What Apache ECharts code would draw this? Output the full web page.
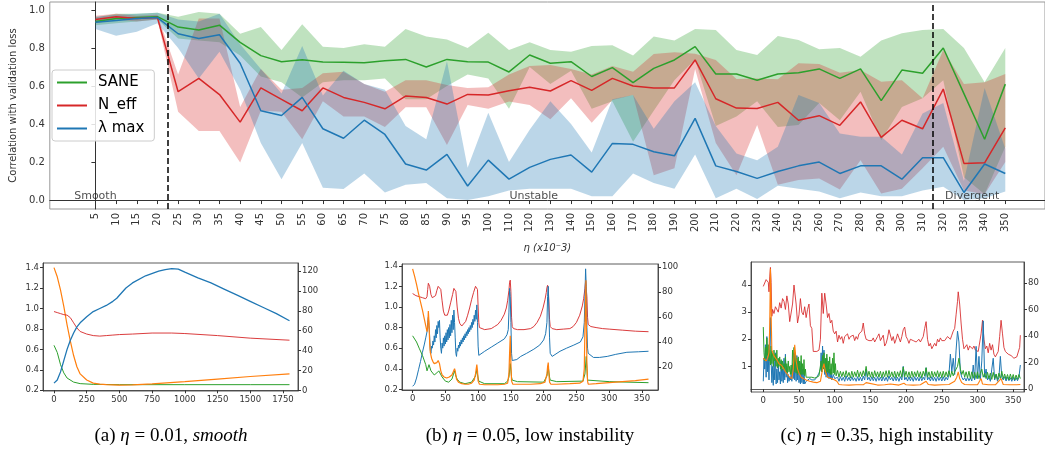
<!DOCTYPE html>
<html><head><meta charset="utf-8">
<script src="https://cdn.jsdelivr.net/npm/echarts@6/dist/echarts.min.js"></script>
<style>html,body{margin:0;padding:0;background:#fff}#c{width:1045px;height:450px}</style>
</head><body><div id="c"></div>
<script>
// ---------------- Top chart data ----------------
const categories = [5,10,15,20,25,30,35,40,45,50,55,60,65,70,75,80,85,90,95,100,110,120,130,140,150,160,170,180,190,200,210,220,230,240,250,260,270,280,290,300,310,320,330,340,350];
const saneMean  = [0.94,0.955,0.96,0.965,0.91,0.895,0.92,0.83,0.76,0.728,0.738,0.726,0.725,0.722,0.733,0.74,0.70,0.74,0.728,0.726,0.674,0.763,0.72,0.728,0.65,0.697,0.618,0.693,0.737,0.807,0.663,0.663,0.63,0.663,0.67,0.69,0.64,0.69,0.523,0.684,0.667,0.80,0.56,0.32,0.61];
const saneLower = [0.92,0.93,0.94,0.95,0.85,0.84,0.83,0.76,0.65,0.62,0.54,0.62,0.63,0.63,0.64,0.53,0.53,0.60,0.66,0.64,0.48,0.70,0.61,0.68,0.48,0.52,0.307,0.47,0.63,0.74,0.39,0.44,0.52,0.385,0.395,0.51,0.42,0.57,0.315,0.49,0.535,0.63,0.12,0.03,0.28];
const saneUpper = [0.96,0.98,0.98,0.985,0.965,0.99,0.98,0.875,0.91,0.79,0.925,0.807,0.80,0.82,0.807,0.90,0.86,0.845,0.80,0.88,0.79,0.83,0.79,0.78,0.81,0.815,0.76,0.86,0.84,0.90,0.895,0.79,0.763,0.863,0.842,0.793,0.80,0.754,0.84,0.877,0.895,0.90,0.80,0.62,0.80];
const neffMean  = [0.95,0.965,0.955,0.96,0.57,0.64,0.555,0.41,0.59,0.53,0.47,0.59,0.54,0.514,0.48,0.547,0.54,0.505,0.556,0.553,0.575,0.593,0.574,0.628,0.577,0.64,0.60,0.59,0.59,0.737,0.533,0.484,0.482,0.514,0.42,0.444,0.393,0.516,0.33,0.42,0.375,0.584,0.193,0.196,0.38];
const neffLower = [0.93,0.95,0.94,0.95,0.465,0.363,0.363,0.197,0.47,0.465,0.32,0.52,0.44,0.44,0.385,0.488,0.488,0.29,0.50,0.48,0.518,0.50,0.425,0.535,0.407,0.526,0.553,0.13,0.167,0.69,0.30,0.13,0.395,0.08,0.105,0.114,0.056,0.21,0.035,0.06,0.167,0.28,0.05,0.03,0.20];
const neffUpper = [0.97,0.98,0.97,0.975,0.66,0.955,0.955,0.49,0.69,0.58,0.59,0.667,0.675,0.61,0.57,0.63,0.63,0.605,0.59,0.593,0.66,0.705,0.71,0.69,0.66,0.705,0.675,0.768,0.777,0.77,0.737,0.637,0.64,0.635,0.72,0.716,0.67,0.684,0.623,0.63,0.535,0.79,0.61,0.62,0.663];
const lamMean   = [0.935,0.945,0.955,0.96,0.875,0.85,0.87,0.72,0.47,0.445,0.54,0.375,0.325,0.42,0.345,0.19,0.158,0.24,0.074,0.21,0.11,0.172,0.214,0.237,0.147,0.298,0.293,0.254,0.233,0.43,0.18,0.15,0.114,0.15,0.18,0.20,0.14,0.18,0.18,0.11,0.223,0.223,0.04,0.19,0.14];
const lamLower  = [0.90,0.865,0.885,0.93,0.80,0.64,0.78,0.58,0.30,0.11,0.30,0.065,0.058,0.14,0.04,0.08,0.09,0.01,0.0,0.02,0.05,0.06,0.06,0.06,0.02,0.02,0.14,0.09,0.06,0.24,0.01,0.06,0.005,0.075,0.06,0.045,0.01,0.04,0.02,0.02,0.05,0.07,0.0,0.01,0.045];
const lamUpper  = [0.965,0.975,0.98,0.985,0.95,0.94,0.98,0.82,0.69,0.56,0.81,0.55,0.68,0.61,0.58,0.39,0.32,0.73,0.17,0.46,0.20,0.37,0.52,0.40,0.25,0.53,0.553,0.375,0.52,0.62,0.39,0.245,0.21,0.28,0.553,0.51,0.35,0.333,0.333,0.24,0.455,0.51,0.10,0.59,0.27];
const seriesNames = ['SANE','N_eff','λ max'];
const yTicks = [0,0.2,0.4,0.6,0.8,1.0];
const phaseBoundaries = [3.5, 40.5];           // in category-index units (22.5 and 315)
const regionLabels = ['Smooth','Unstable','Divergent'];
const regionLabelX = [0, 21.2, 42.4];
const regionLabelY = [0.02, 0.02, 0.02];

// ---------------- (a) eta = 0.01 ----------------
const aXTicks = [0,250,500,750,1000,1250,1500,1750];
const aLeftTicks = [0.2,0.4,0.6,0.8,1.0,1.2,1.4];
const aRightTicks = [0,20,40,60,80,100,120];
const aOrange = [[0,1.40],[25,1.31],[50,1.18],[75,1.02],[100,0.84],[125,0.68],[150,0.54],[175,0.43],[200,0.36],[250,0.30],[300,0.27],[350,0.26],[400,0.255],[500,0.25],[600,0.252],[750,0.262],[1000,0.285],[1250,0.31],[1500,0.335],[1800,0.36]];
const aGreen = [[0,0.64],[10,0.63],[25,0.57],[50,0.45],[75,0.37],[100,0.32],[150,0.28],[200,0.265],[300,0.258],[500,0.255],[1000,0.255],[1500,0.255],[1800,0.255]];
const aBlue = [[0,0.27],[10,0.275],[25,0.30],[50,0.38],[75,0.49],[100,0.60],[125,0.69],[150,0.76],[175,0.82],[200,0.86],[250,0.92],[300,0.97],[350,1.00],[400,1.03],[450,1.07],[480,1.10],[500,1.13],[550,1.20],[600,1.25],[700,1.32],[800,1.365],[850,1.38],[900,1.39],[950,1.385],[1000,1.355],[1100,1.30],[1200,1.25],[1300,1.19],[1400,1.13],[1500,1.07],[1600,1.01],[1700,0.95],[1800,0.88]];
const aRed = [[0,0.97],[25,0.96],[50,0.95],[75,0.94],[100,0.935],[125,0.91],[150,0.86],[175,0.81],[200,0.775],[250,0.75],[300,0.735],[350,0.73],[400,0.735],[450,0.74],[500,0.745],[600,0.75],[750,0.76],[900,0.76],[1000,0.755],[1250,0.735],[1500,0.71],[1800,0.69]];

// ---------------- (b) eta = 0.05 ----------------
const bXTicks = [0,50,100,150,200,250,300,350];
const bLeftTicks = [0.2,0.4,0.6,0.8,1.0,1.2,1.4];
const bRightTicks = [20,40,60,80,100];
const bRed = [[0,1.13],[5,1.11],[10,1.10],[15,1.09],[20,1.08],[22,1.10],[23,1.17],[24,1.23],[25,1.245],[26,1.2],[28,1.12],[30,1.09],[33,1.08],[35,1.11],[37,1.16],[39,1.2],[41,1.21],[43,1.17],[45,1.06],[47,0.96],[49,0.92],[51,0.905],[53,0.92],[55,0.96],[58,1.04],[61,1.12],[63,1.18],[64,1.195],[66,1.15],[68,1.0],[70,0.89],[72,0.84],[75,0.815],[78,0.82],[81,0.86],[84,0.92],[87,0.99],[90,1.07],[93,1.14],[96,1.2],[98,1.21],[99,1.17],[100,1.0],[101,0.85],[102,0.8],[105,0.785],[110,0.78],[115,0.785],[120,0.79],[125,0.81],[130,0.83],[135,0.87],[140,0.93],[143,0.99],[145,1.06],[147,1.16],[148,1.24],[149,1.26],[150,1.15],[151,0.9],[152,0.81],[154,0.79],[160,0.78],[170,0.78],[180,0.79],[185,0.81],[190,0.85],[195,0.91],[199,0.99],[202,1.07],[204,1.14],[205,1.19],[206,1.21],[207,1.18],[208,1.05],[209,0.88],[210,0.81],[213,0.79],[220,0.78],[230,0.785],[240,0.79],[245,0.81],[250,0.85],[255,0.92],[259,1.01],[261,1.08],[263,1.18],[264,1.25],[265,1.26],[266,1.1],[267,0.9],[268,0.83],[272,0.81],[280,0.80],[290,0.79],[300,0.785],[320,0.775],[340,0.765],[360,0.76]];
const bBlue = [[0,0.23],[3,0.25],[6,0.31],[9,0.39],[12,0.47],[15,0.56],[18,0.64],[20,0.70],[22,0.76],[23,0.85],[24,0.9],[25,0.82],[26,0.72],[27,0.58],[28,0.55],[29,0.62],[30,0.6],[31,0.67],[32,0.63],[33,0.72],[34,0.66],[35,0.78],[36,0.7],[37,0.82],[38,0.74],[39,0.86],[40,0.8],[41,0.87],[42,0.7],[43,0.6],[44,0.55],[45,0.65],[46,0.6],[47,0.7],[48,0.62],[49,0.72],[50,0.64],[51,0.75],[52,0.66],[53,0.78],[54,0.68],[55,0.8],[56,0.7],[57,0.83],[58,0.72],[59,0.87],[60,0.75],[61,0.92],[62,0.78],[63,0.97],[64,0.85],[65,0.7],[66,0.55],[67,0.52],[68,0.6],[69,0.57],[70,0.63],[71,0.6],[72,0.66],[73,0.62],[74,0.68],[75,0.64],[76,0.7],[77,0.66],[78,0.72],[79,0.68],[80,0.74],[81,0.7],[82,0.76],[83,0.72],[84,0.78],[85,0.74],[86,0.8],[87,0.76],[88,0.82],[89,0.78],[90,0.85],[91,0.8],[92,0.88],[93,0.83],[94,0.92],[95,0.86],[96,0.97],[97,0.88],[98,1.02],[99,0.85],[100,0.62],[101,0.53],[103,0.53],[110,0.57],[120,0.61],[130,0.65],[140,0.69],[144,0.73],[146,0.78],[147,0.95],[148,1.18],[149,1.1],[150,0.85],[151,0.55],[152,0.48],[153,0.47],[159,0.49],[165,0.52],[174,0.55],[185,0.59],[194,0.63],[200,0.68],[203,0.74],[205,0.85],[206,1.1],[207,1.2],[208,0.95],[209,0.7],[210,0.55],[213,0.52],[225,0.57],[235,0.60],[246,0.63],[256,0.66],[260,0.71],[262,0.85],[263,1.1],[264,1.37],[265,1.2],[266,0.8],[267,0.6],[268,0.55],[276,0.51],[285,0.51],[297,0.52],[310,0.54],[327,0.56],[345,0.565],[360,0.57]];
const bGreen = [[0,0.72],[3,0.71],[6,0.66],[10,0.60],[15,0.53],[20,0.44],[22,0.38],[25,0.44],[28,0.38],[33,0.34],[37,0.36],[40,0.38],[45,0.32],[50,0.28],[55,0.27],[60,0.30],[62,0.34],[64,0.38],[66,0.33],[68,0.30],[72,0.27],[80,0.255],[90,0.27],[96,0.33],[98,0.39],[100,0.31],[101,0.28],[110,0.255],[140,0.255],[145,0.28],[147,0.32],[149,0.45],[151,0.32],[152,0.29],[160,0.275],[200,0.27],[205,0.33],[207,0.42],[209,0.32],[210,0.29],[220,0.275],[260,0.28],[263,0.35],[265,0.52],[266,0.4],[267,0.29],[300,0.275],[360,0.265]];
const bOrange = [[0,1.37],[3,1.30],[6,1.22],[9,1.13],[12,1.05],[15,0.97],[18,0.88],[20,0.82],[22,0.76],[23,0.8],[24,0.96],[25,0.85],[26,0.65],[27,0.56],[29,0.5],[31,0.47],[33,0.45],[35,0.44],[37,0.46],[39,0.48],[40,0.48],[41,0.45],[43,0.38],[45,0.34],[48,0.32],[52,0.31],[56,0.32],[60,0.34],[62,0.37],[64,0.40],[65,0.38],[67,0.3],[70,0.27],[75,0.255],[80,0.25],[85,0.25],[90,0.26],[94,0.29],[96,0.35],[98,0.44],[99,0.38],[100,0.28],[102,0.25],[110,0.245],[120,0.245],[130,0.245],[140,0.25],[145,0.26],[147,0.35],[148,0.55],[149,0.72],[150,0.45],[151,0.28],[153,0.25],[160,0.25],[180,0.25],[195,0.255],[202,0.27],[205,0.35],[206,0.42],[207,0.46],[208,0.35],[209,0.27],[211,0.25],[220,0.25],[240,0.255],[255,0.26],[260,0.28],[262,0.4],[263,0.8],[264,1.1],[264.5,1.26],[265,0.9],[266,0.45],[267,0.28],[268,0.25],[280,0.255],[300,0.265],[320,0.275],[340,0.285],[360,0.30]];

// ---------------- (c) eta = 0.35 ----------------
const cXTicks = [0,50,100,150,200,250,300,350];
const cLeftTicks = [1,2,3,4];
const cRightTicks = [0,20,40,60,80];
const cRed = [[0,3.95],[2,4.0],[4,4.2],[6,4.25],[7,4.1],[8,3.75],[9,4.3],[10,4.65],[11,4.1],[12,2.85],[13,3.1],[15,2.95],[17,3.2],[19,3.25],[21,3.0],[23,3.35],[25,3.15],[27,3.5],[29,3.4],[31,3.1],[33,3.6],[35,3.3],[37,2.65],[39,2.6],[41,3.3],[43,4.0],[44,4.05],[46,3.3],[48,2.6],[50,2.9],[52,3.5],[54,3.0],[56,2.9],[58,3.2],[60,2.8],[62,3.1],[64,3.3],[66,2.5],[68,2.4],[70,1.55],[72,1.5],[75,1.55],[78,1.6],[80,2.0],[82,3.7],[84,2.95],[86,3.7],[88,3.3],[90,2.8],[92,2.95],[94,2.6],[96,2.7],[98,2.3],[100,2.2],[102,2.3],[104,1.9],[106,2.15],[108,2.0],[110,2.1],[112,1.85],[114,2.1],[116,2.05],[118,2.2],[120,2.0],[122,2.1],[124,2.05],[126,2.15],[128,1.95],[130,2.1],[132,2.0],[134,2.2],[136,2.15],[138,2.3],[140,2.6],[142,2.2],[144,2.0],[146,2.05],[148,1.95],[150,2.0],[152,1.95],[154,2.05],[156,1.9],[158,2.0],[160,2.1],[162,2.2],[164,1.95],[166,2.0],[168,2.15],[170,1.75],[172,1.85],[174,2.05],[176,2.35],[178,2.4],[180,1.95],[182,2.1],[184,1.85],[186,2.0],[188,2.2],[190,2.05],[192,1.9],[194,2.1],[196,2.35],[198,2.45],[200,2.1],[202,2.0],[204,1.85],[206,2.0],[208,1.95],[210,1.95],[212,2.0],[214,1.9],[216,1.95],[218,2.0],[220,1.9],[222,1.85],[224,2.1],[226,2.4],[228,2.65],[230,2.0],[232,1.75],[234,1.85],[236,1.65],[238,1.7],[240,1.85],[242,1.75],[244,2.0],[246,1.9],[248,2.05],[250,1.95],[252,2.0],[254,1.95],[256,2.0],[258,2.1],[260,2.05],[262,2.0],[264,2.15],[266,2.3],[268,2.4],[270,2.9],[272,3.4],[273,3.75],[275,3.3],[277,2.6],[279,2.0],[281,1.65],[283,1.7],[285,1.8],[287,1.6],[289,1.75],[291,1.7],[293,1.65],[295,1.75],[297,1.6],[299,1.65],[301,1.55],[303,1.6],[305,2.2],[307,2.7],[309,2.0],[311,1.65],[313,1.75],[315,1.5],[317,1.85],[319,1.6],[321,1.8],[323,1.45],[325,1.35],[327,1.3],[329,1.55],[331,2.1],[333,2.7],[335,2.2],[337,1.7],[339,1.55],[341,1.6],[343,1.45],[345,1.5],[347,1.4],[349,1.35],[351,1.3],[353,1.3],[355,1.35],[357,1.4],[359,1.7],[360,2.15]];
const cBlue = [[0,0.45],[1,1.3],[2,0.9],[3,1.8],[4,0.6],[5,2.1],[6,0.8],[7,1.4],[8,0.5],[9,1.9],[10,2.8],[11,1.2],[12,0.4],[13,1.0],[14,0.3],[15,1.2],[16,0.5],[17,1.5],[18,0.35],[19,0.9],[20,0.4],[21,1.1],[22,0.5],[23,0.8],[24,0.35],[25,1.2],[26,0.45],[27,0.9],[28,0.4],[29,1.3],[30,0.5],[31,1.45],[32,0.6],[33,1.0],[34,0.4],[35,0.7],[36,0.45],[37,0.6],[38,0.5],[39,0.7],[40,0.45],[41,1.1],[42,0.55],[43,1.5],[44,0.5],[45,1.3],[46,0.45],[47,1.4],[48,0.5],[49,1.2],[50,0.4],[51,1.0],[52,0.35],[53,1.15],[54,0.4],[55,0.9],[56,0.35],[57,0.8],[58,0.35],[60,0.45],[62,0.5],[65,0.55],[68,0.5],[70,0.55],[72,0.5],[75,0.6],[78,0.75],[80,0.9],[81,1.5],[82,0.8],[83,1.75],[84,0.9],[85,1.6],[86,0.7],[87,1.2],[88,0.6],[89,1.3],[90,0.6],[91,1.1],[92,0.55],[93,0.9],[94,0.55],[95,0.8],[96,0.5],[98,0.7],[100,0.55],[102,0.5],[104,0.6],[106,0.45],[108,0.62],[110,0.48],[112,0.6],[114,0.45],[116,0.65],[118,0.48],[120,0.6],[122,0.46],[124,0.62],[126,0.48],[128,0.58],[130,0.45],[132,0.62],[134,0.47],[136,0.6],[138,0.46],[140,0.64],[142,0.5],[144,0.9],[146,0.5],[148,0.6],[150,0.46],[152,0.62],[154,0.47],[156,0.6],[158,0.45],[160,0.62],[162,0.48],[164,0.6],[166,0.46],[168,0.62],[170,0.47],[172,0.6],[174,0.45],[176,0.65],[178,0.5],[180,0.6],[182,0.46],[184,0.62],[186,0.47],[188,0.6],[190,0.45],[192,0.62],[194,0.5],[196,1.0],[198,0.5],[200,0.6],[202,0.46],[204,0.62],[206,0.47],[208,0.6],[210,0.45],[212,0.62],[214,0.48],[216,0.6],[218,0.46],[220,0.62],[222,0.47],[224,0.6],[226,0.5],[228,0.95],[230,0.5],[232,0.6],[234,0.46],[236,0.62],[238,0.47],[240,0.6],[242,0.45],[244,0.62],[246,0.48],[248,0.6],[250,0.46],[252,0.62],[254,0.47],[256,0.6],[258,0.5],[260,0.7],[262,1.45],[264,0.8],[266,1.3],[268,0.7],[270,1.6],[272,2.3],[274,1.9],[276,0.8],[278,0.6],[280,0.5],[282,0.58],[284,0.46],[286,0.6],[288,0.47],[290,0.58],[292,0.46],[294,1.05],[296,0.5],[298,1.74],[300,0.55],[302,1.37],[304,0.5],[306,1.2],[308,2.68],[310,0.6],[312,0.9],[314,0.5],[316,0.6],[318,0.45],[320,0.9],[322,1.3],[324,0.5],[326,0.7],[328,0.45],[330,0.6],[332,1.37],[334,0.6],[336,0.5],[338,0.62],[340,0.46],[342,0.6],[344,0.47],[346,0.58],[348,0.45],[350,0.6],[352,0.46],[354,0.58],[356,0.47],[358,0.6],[360,1.05]];
const cGreen = [[0,2.45],[1,1.5],[2,1.2],[3,1.7],[4,1.3],[5,2.05],[6,1.4],[7,1.8],[8,1.2],[9,1.6],[10,1.05],[11,1.75],[12,1.1],[13,1.5],[14,1.0],[15,1.6],[16,1.2],[17,1.45],[18,1.0],[19,1.6],[20,0.95],[21,1.3],[22,1.0],[23,1.35],[24,0.9],[25,1.25],[26,0.85],[27,1.2],[28,0.9],[29,1.1],[30,0.85],[31,1.35],[32,0.8],[33,1.1],[34,0.75],[35,1.2],[36,0.8],[37,1.0],[38,0.7],[39,1.05],[40,0.7],[41,1.6],[42,0.9],[43,1.7],[44,0.8],[45,1.5],[46,0.75],[47,1.3],[48,0.7],[49,1.35],[50,0.75],[51,1.2],[52,0.7],[53,1.4],[54,0.7],[55,1.1],[56,0.7],[57,1.25],[58,0.65],[59,0.9],[60,0.6],[62,0.62],[64,0.6],[66,0.58],[68,0.6],[70,0.58],[72,0.57],[75,0.6],[78,0.65],[80,0.7],[81,1.2],[82,0.8],[83,1.4],[84,0.9],[85,1.5],[86,0.8],[87,1.3],[88,0.75],[89,1.45],[90,0.8],[91,1.2],[92,0.75],[93,1.35],[94,0.7],[95,1.1],[96,0.7],[97,1.3],[98,0.75],[99,1.5],[100,0.7],[101,1.1],[102,0.65],[104,0.85],[106,0.6],[108,0.82],[110,0.62],[112,0.8],[114,0.6],[116,0.84],[118,0.62],[120,0.78],[122,0.58],[124,0.82],[126,0.6],[128,0.8],[130,0.62],[132,0.86],[134,0.6],[136,0.8],[138,0.62],[140,0.84],[142,0.65],[144,1.0],[146,0.62],[148,0.82],[150,0.6],[152,0.8],[154,0.58],[156,0.84],[158,0.62],[160,0.8],[162,0.6],[164,0.82],[166,0.58],[168,0.8],[170,0.62],[172,0.84],[174,0.6],[176,0.85],[178,0.62],[180,0.8],[182,0.6],[184,0.82],[186,0.58],[188,0.8],[190,0.62],[192,0.84],[194,0.6],[196,0.98],[198,0.62],[200,0.82],[202,0.6],[204,0.8],[206,0.58],[208,0.82],[210,0.6],[212,0.8],[214,0.62],[216,0.84],[218,0.6],[220,0.8],[222,0.58],[224,0.82],[226,0.65],[228,0.95],[230,0.6],[232,0.8],[234,0.58],[236,0.82],[238,0.6],[240,0.8],[242,0.62],[244,0.84],[246,0.6],[248,0.8],[250,0.58],[252,0.82],[254,0.6],[256,0.8],[258,0.62],[260,0.84],[262,0.6],[264,0.82],[266,0.65],[268,0.8],[270,0.9],[272,1.0],[274,1.3],[276,0.9],[278,0.7],[280,0.85],[282,0.6],[284,0.8],[286,0.58],[288,0.82],[290,0.55],[292,0.8],[294,0.56],[296,0.78],[298,0.55],[300,0.8],[302,0.55],[304,0.75],[306,0.9],[308,0.6],[310,0.75],[312,0.55],[314,0.78],[316,0.55],[318,0.75],[320,0.52],[322,0.78],[324,0.55],[326,0.72],[328,0.52],[330,0.75],[332,0.55],[334,0.82],[336,0.55],[338,0.72],[340,0.52],[342,0.7],[344,0.5],[346,0.72],[348,0.52],[350,0.7],[352,0.5],[354,0.68],[356,0.52],[358,0.7],[360,0.55]];
const cOrange = [[0,1.3],[2,1.25],[4,1.2],[6,1.3],[8,1.5],[9,2.5],[10,4.6],[11,3.0],[12,1.6],[14,1.45],[16,1.35],[18,1.3],[20,1.2],[22,1.1],[25,1.05],[28,0.95],[31,0.8],[34,0.7],[37,0.6],[40,0.55],[42,0.9],[44,1.8],[46,1.2],[48,0.9],[50,0.75],[53,0.6],[56,0.55],[60,0.5],[65,0.45],[70,0.42],[75,0.4],[80,0.45],[83,0.9],[85,1.1],[87,0.8],[90,0.6],[95,0.55],[100,0.5],[103,0.45],[106,0.33],[110,0.32],[120,0.31],[130,0.32],[140,0.32],[144,0.4],[146,0.33],[160,0.31],[170,0.32],[178,0.35],[180,0.32],[190,0.31],[197,0.38],[200,0.32],[210,0.31],[220,0.32],[228,0.45],[231,0.33],[240,0.31],[250,0.32],[260,0.33],[268,0.45],[271,0.6],[273,0.8],[275,0.55],[278,0.4],[282,0.33],[290,0.32],[300,0.32],[305,0.55],[307,0.35],[315,0.32],[325,0.32],[333,0.55],[336,0.33],[345,0.32],[355,0.32],[360,0.33]];

// ---------------- build ----------------
const C = {blue:'#1f77b4', orange:'#ff7f0e', green:'#2ca02c', red:'#d62728'};
const FONT = 'DejaVu Sans';
const idx = categories.map((_, i) => i);
const axisCol = '#333';

// filled band between lower and upper, drawn as one polygon through the axis scales
function bandSeries(lower, upper, fill) {
  return {type:'custom', xAxisIndex:0, yAxisIndex:0, silent:true, z:1,
    data: lower.map((v,i)=>[i, v, upper[i]]),
    encode:{x:0, y:[1,2]},
    renderItem: (params, api) => {
      if (params.dataIndex !== 0) return null;
      const top = [], bot = [];
      for (let i = 0; i < lower.length; i++) {
        top.push(api.coord([i, upper[i]]));
        bot.push(api.coord([i, lower[i]]));
      }
      return {type:'polygon', shape:{points: top.concat(bot.reverse())}, style:{fill, stroke:null}};
    }};
}
function meanSeries(name, vals, color, extra) {
  return Object.assign({type:'line', name, data: vals.map((v,i)=>[i,v]), symbol:'none', silent:true,
    lineStyle:{color, width:1.5}, itemStyle:{color}, z:3, xAxisIndex:0, yAxisIndex:0}, extra || {});
}
function subLine(data, color, xi, yi, w, op) {
  return {type:'line', data, symbol:'none', silent:true, xAxisIndex:xi, yAxisIndex:yi,
    lineStyle:{color, width:w || 1, opacity: op == null ? 1 : op}, itemStyle:{color}, z:2};
}
const f1 = v => v.toFixed(1);
const f0 = v => String(Math.round(v));
function subX(gi, min, max, ticks) {
  return {type:'value', gridIndex:gi, min, max, splitLine:{show:false},
    axisLine:{lineStyle:{color:axisCol, width:0.8}},
    axisTick:{customValues:ticks, length:3, lineStyle:{color:axisCol}},
    axisLabel:{customValues:ticks, fontSize:8.5, color:'#333', margin:4, fontFamily:FONT, formatter:f0}};
}
function subY(gi, min, max, ticks, pos, fmt) {
  return {type:'value', gridIndex:gi, min, max, position:pos, splitLine:{show:false},
    axisLine:{show:true, onZero:false, lineStyle:{color:axisCol, width:0.8}},
    axisTick:{show:true, customValues:ticks, length:3, lineStyle:{color:axisCol}},
    axisLabel:{customValues:ticks, fontSize:8.5, color:'#333', margin:4, fontFamily:FONT, formatter:fmt}};
}

const series = [];
series.push(bandSeries(saneLower, saneUpper, 'rgba(44,160,44,0.3)'));
series.push(bandSeries(neffLower, neffUpper, 'rgba(214,39,40,0.3)'));
series.push(bandSeries(lamLower, lamUpper, 'rgba(31,119,180,0.3)'));
series.push(meanSeries('SANE', saneMean, C.green, {
  markLine:{silent:true, symbol:['none','none'], label:{show:false},
    lineStyle:{color:'#000', type:[6,3], width:1.5},
    data: phaseBoundaries.map(x => ({xAxis:x}))}
}));
series.push(meanSeries('N_eff', neffMean, C.red));
series.push(meanSeries('λ max', lamMean, C.blue));
series.push({type:'scatter', xAxisIndex:0, yAxisIndex:0, silent:true, z:5,
  data: regionLabels.map((t,i)=>[regionLabelX[i], regionLabelY[i]]),
  symbolSize:1, itemStyle:{color:'rgba(0,0,0,0)'},
  label:{show:true, position:'inside', formatter: p => regionLabels[p.dataIndex], fontSize:11, color:'#222', fontFamily:FONT}});

// (a)
series.push(subLine(aGreen, C.green, 1, 1, 1));
series.push(subLine(aOrange, C.orange, 1, 1, 1.2));
series.push(subLine(aRed, C.red, 1, 1, 1, 0.9));
series.push(subLine(aBlue, C.blue, 1, 1, 1.3));
// (b)
series.push(subLine(bRed, C.red, 2, 3, 1, 0.9));
series.push(subLine(bBlue, C.blue, 2, 3, 1));
series.push(subLine(bGreen, C.green, 2, 3, 1));
series.push(subLine(bOrange, C.orange, 2, 3, 1.2));
// (c)
series.push(subLine(cRed, C.red, 3, 5, 1, 0.85));
series.push(subLine(cBlue, C.blue, 3, 5, 1));
series.push(subLine(cGreen, C.green, 3, 5, 1));
series.push(subLine(cOrange, C.orange, 3, 5, 1.1));

const capFont = 'Liberation Serif';
function caption(x, parts) {
  return {type:'text', x, y:436, style:{
    text: parts, textAlign:'center', textVerticalAlign:'middle', fill:'#000',
    font: '19px "' + capFont + '"',
    rich:{n:{fontSize:19, fontFamily:capFont, fill:'#000'}, i:{fontSize:19, fontFamily:capFont, fontStyle:'italic', fill:'#000'}}
  }};
}

const option = {
  animation:false,
  backgroundColor:'#fff',
  grid:[
    {left:43, top:2, width:1004, height:207, show:true, borderColor:'#999', borderWidth:1, backgroundColor:'transparent'},
    {left:43, top:263, width:255, height:128, show:true, borderColor:axisCol, borderWidth:0.8},
    {left:402, top:264, width:256, height:126, show:true, borderColor:axisCol, borderWidth:0.8},
    {left:751, top:262, width:273, height:130, show:true, borderColor:axisCol, borderWidth:0.8}
  ],
  xAxis:[
    {type:'value', gridIndex:0, min:-2.205, max:45.92, splitLine:{show:false},
     axisLine:{lineStyle:{color:axisCol}},
     axisTick:{customValues:idx, length:4, lineStyle:{color:axisCol}},
     axisLabel:{customValues:idx, rotate:90, fontSize:10, color:'#333', margin:4, fontFamily:FONT,
       formatter: v => String(categories[Math.round(v)])},
     name:'η (x10⁻3)', nameLocation:'middle', nameGap:34,
     nameTextStyle:{fontSize:10, fontStyle:'italic', color:'#333', fontFamily:FONT}},
    subX(1, -84, 1865, aXTicks),
    subX(2, -16.2, 374.5, bXTicks),
    subX(3, -17.2, 365.1, cXTicks)
  ],
  yAxis:[
    {type:'value', gridIndex:0, min:-0.047, max:1.042, splitLine:{show:false},
     axisLine:{show:true, lineStyle:{color:axisCol}},
     axisTick:{show:true, customValues:yTicks, length:4, lineStyle:{color:axisCol}},
     axisLabel:{customValues:yTicks, fontSize:10, color:'#333', margin:5, fontFamily:FONT, formatter:f1},
     name:'Correlation with validation loss', nameLocation:'middle', nameGap:30,
     nameTextStyle:{fontSize:10, color:'#333', fontFamily:FONT}},
    subY(1, 0.193, 1.445, aLeftTicks, 'left', f1),
    subY(1, -0.7, 128.1, aRightTicks, 'right', f0),
    subY(2, 0.194, 1.417, bLeftTicks, 'left', f1),
    subY(2, 1.6, 102.6, bRightTicks, 'right', f0),
    subY(3, 0.055, 4.85, cLeftTicks, 'left', f0),
    subY(3, -2.26, 95.8, cRightTicks, 'right', f0)
  ],
  legend:{
    data: seriesNames, orient:'vertical', left:52, top:70,
    icon:'rect', itemWidth:30, itemHeight:2, itemGap:8,
    padding:[5,10,5,5], backgroundColor:'rgba(255,255,255,0.85)',
    borderColor:'#ccc', borderWidth:1, borderRadius:3,
    textStyle:{fontSize:15, color:'#000', fontFamily:FONT, padding:[0,0,0,6]},
    selectedMode:false
  },
  graphic:[
    caption(171, '{n|(a) }{i|η}{n| = 0.01, }{i|smooth}'),
    caption(530, '{n|(b) }{i|η}{n| = 0.05, low instability}'),
    caption(887, '{n|(c) }{i|η}{n| = 0.35, high instability}')
  ],
  series
};
const chart = echarts.init(document.getElementById('c'));
chart.setOption(option);
</script>
</body></html>
